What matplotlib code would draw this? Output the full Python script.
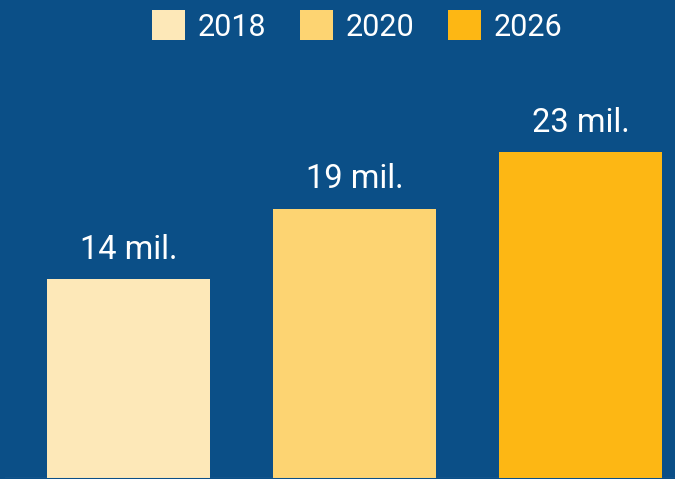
import matplotlib.pyplot as plt
from matplotlib.patches import Patch

# projected totals, millions
years = ['2018', '2020', '2026']
values = [14, 19, 23]
labels = ['14 mil.', '19 mil.', '23 mil.']
colors = ['#fde8b8', '#fdd472', '#fdb714']

BG = '#0b4f87'
plt.rcParams['font.family'] = ['Roboto', 'DejaVu Sans']

fig = plt.figure(figsize=(6.75, 4.79), dpi=100)
fig.patch.set_facecolor(BG)
ax = fig.add_axes([0, 1 / 479, 1, 478 / 479])
ax.set_facecolor(BG)

x = range(len(values))
bars = ax.bar(x, values, width=0.72, color=colors, edgecolor='none')
for b, lab in zip(bars, labels):
    ax.annotate(lab, (b.get_x() + b.get_width() / 2, b.get_height()),
                xytext=(0, 14.5), textcoords='offset points',
                ha='center', va='baseline', color='white', fontsize=23.5)

ax.axhline(0, color='#8fa9c4', lw=0.8, xmin=0.007)
ax.set_xlim(-0.569, 2.418)
ax.set_ylim(0, 33.7)
ax.axis('off')

handles = [Patch(facecolor=c, edgecolor='none') for c in colors]
fig.legend(handles, years, loc='center', bbox_to_anchor=(357 / 675, 1 - 26 / 479),
           ncol=3, frameon=False, fontsize=22, labelcolor='white',
           handlelength=1.1, handleheight=1.1, handletextpad=0.4,
           columnspacing=1.1, borderpad=0, borderaxespad=0)

plt.savefig('out.png', dpi=100, facecolor=BG)
